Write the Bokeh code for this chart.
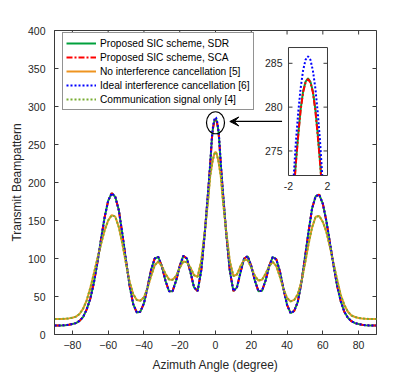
from bokeh.plotting import figure
from bokeh.models import Range1d, FixedTicker, Legend, LegendItem, Arrow, VeeHead
from bokeh.core.properties import value
from bokeh.embed import file_html
from bokeh.resources import INLINE

# ---------------- data ----------------
angles = [-90, -88, -86, -84, -82, -80, -78, -76, -74, -72, -70, -68, -66, -64, -62, -60,
          -58, -56, -54, -52, -50, -48, -46, -44, -42, -40, -38, -36, -34, -32, -30, -28,
          -26, -24, -22, -20, -18, -16, -14, -12, -10, -8, -6, -4,
          -3, -2, -1.75, -1.5, -1.25, -1, -0.75, -0.5, -0.25, 0,
          0.25, 0.5, 0.75, 1, 1.25, 1.5, 1.75, 2, 3,
          4, 6, 8, 10, 12, 14, 16, 18, 20, 22, 24, 26, 28, 30, 32, 34, 36, 38, 40, 42,
          44, 46, 48, 50, 52, 54, 56, 58, 60, 62, 64, 66, 68, 70, 72, 74, 76, 78, 80, 82,
          84, 86, 88, 90]

ideal = [11.8, 11.8, 12, 12.2, 12.8, 13.8, 15, 18, 23, 33, 47, 68, 95, 125, 154, 176,
         186, 181, 163, 131, 97, 64, 40, 29, 30, 41, 62, 85, 100, 102, 90, 71,
         57, 57, 71, 90, 103.5, 100, 82, 62, 57, 84, 133, 192,
         224, 260, 266.6, 271.5, 275.9, 279.4, 282.2, 284.2, 285.4, 285.8,
         285.4, 284.2, 282.2, 279.4, 275.9, 271.5, 266.6, 260, 224,
         192, 133, 84, 57, 62, 82, 100, 103, 90, 71, 57, 57.5, 71, 90, 102, 99, 83, 60, 39, 28,
         31, 43, 68, 101, 135, 166, 182, 184, 172, 149, 120, 91, 64, 44, 30, 22, 17.5, 15, 13.8, 12.8,
         12.2, 12, 11.8, 11.8]

sca = [11.8, 11.8, 12, 12.2, 12.8, 13.8, 15, 18, 23, 33, 47, 68, 95, 125, 154, 176,
       186, 181, 163, 131, 97, 64, 40, 29, 30, 41, 62, 85, 100, 102, 90, 71,
       57, 57, 71, 90, 103.5, 100, 82, 62, 57, 84, 133, 191,
       222, 258, 264.3, 269.6, 273.5, 276.8, 279.7, 281.7, 282.8, 283.2,
       282.8, 281.7, 279.7, 276.8, 273.5, 269.6, 264.3, 258, 222,
       191, 133, 84, 57, 62, 82, 100, 103, 90, 71, 57, 57.5, 71, 90, 102, 99, 83, 60, 39, 28,
       31, 43, 68, 101, 135, 166, 182, 184, 172, 149, 120, 91, 64, 44, 30, 22, 17.5, 15, 13.8, 12.8,
       12.2, 12, 11.8, 11.8]

sdr = [11.8, 11.8, 12, 12.2, 12.8, 13.8, 15, 18, 23, 33, 47, 68, 95, 125, 154, 176,
       186, 181, 163, 131, 97, 64, 40, 29, 30, 41, 62, 85, 100, 102, 90, 71,
       57, 57, 71, 90, 103.5, 100, 82, 62, 57, 84, 133, 191,
       222, 258.1, 264.4, 269.7, 273.6, 276.9, 279.8, 281.8, 282.9, 283.3,
       282.9, 281.8, 279.8, 276.9, 273.6, 269.7, 264.4, 258.1, 222,
       191, 133, 84, 57, 62, 82, 100, 103, 90, 71, 57, 57.5, 71, 90, 102, 99, 83, 60, 39, 28,
       31, 43, 68, 101, 135, 166, 182, 184, 172, 149, 120, 91, 64, 44, 30, 22, 17.5, 15, 13.8, 12.8,
       12.2, 12, 11.8, 11.8]

no_cancel = [20.5, 20.5, 20.5, 20.8, 21.2, 22, 23.5, 27, 34, 45, 61, 80, 100, 119, 137, 150,
             157, 155, 141, 119, 93, 69, 53, 45.5, 44.5, 49, 61, 77, 91, 96, 90, 80,
             72.5, 72, 77, 88, 96, 95, 88, 78, 76, 96, 135, 180,
             208, 223, 226.5, 229.5, 232, 234.5, 236.8, 238.5, 239.6, 240,
             239.6, 238.5, 236.8, 234.5, 232, 229.5, 226.5, 223, 208,
             180, 135, 96, 77, 79, 90, 98, 98, 88, 77, 71, 72, 80, 90, 95.5, 90, 76, 60, 48, 43.5,
             45.5, 53, 69, 93, 119, 141, 155, 156, 148, 135, 115, 93, 72, 52, 39, 30, 25, 23, 21.8, 21,
             20.7, 20.5, 20.5, 20.5]

comm_only = [20.5, 20.5, 20.5, 20.8, 21.2, 22, 23.5, 27, 34, 45, 61, 80, 100, 119, 137, 150,
             157, 155, 141, 119, 93, 69, 53, 45.5, 44.5, 49, 61, 77, 91, 96, 90, 80,
             72.5, 72, 77, 88, 96, 95, 88, 78, 76, 96, 135, 180,
             208, 223, 226.5, 229.5, 232, 234.5, 236.8, 238.5, 239.6, 240,
             239.6, 238.5, 236.8, 234.5, 232, 229.5, 226.5, 223, 208,
             180, 135, 96, 77, 79, 90, 98, 98, 88, 77, 71, 72, 80, 90, 95.5, 90, 76, 60, 48, 43.5,
             45.5, 53, 69, 93, 119, 141, 155, 156, 148, 135, 115, 93, 72, 52, 39, 30, 25, 23, 21.8, 21,
             20.7, 20.5, 20.5, 20.5]

labels = ["Proposed SIC scheme, SDR", "Proposed SIC scheme, SCA",
          "No interference cancellation [5]", "Ideal interference cancellation [6]",
          "Communication signal only [4]"]

x_ticks = [-80, -60, -40, -20, 0, 20, 40, 60, 80]
y_ticks = [0, 50, 100, 150, 200, 250, 300, 350, 400]
x_lim = (-90, 90)
y_lim = (0, 400)

inset_x_ticks = [-2, 2]
inset_y_ticks = [275, 280, 285]
inset_x_lim = (-2, 2)
inset_y_lim = (272.2, 286.8)
# where the inset box sits, in main-axis units
inset_box_x = (40.8, 62.6)
inset_box_y = (209.2, 377.6)

# zoom marker (circle around the peak) and arrow from the inset
mark_x, mark_y = 0, 278.6
arrow_from = (37.2, 280.3)
arrow_to = (8.0, 280.3)

# ---------------- style ----------------
FONT = "Liberation Sans"
AX = "#3a3a3a"
TXT = "#262626"
TICK_SIZE = "10.5px"
C_SDR = "#00A03C"
C_SCA = "#FF0000"
C_NO = "#EE9420"
C_IDEAL = "#0000FF"
C_COMM = "#77AC30"

BORDER_L, BORDER_R, BORDER_T, BORDER_B = 54, 31, 30, 41
FRAME_W, FRAME_H = 322, 304

STYLES = [dict(line_color=C_SDR, line_width=2),
          dict(line_color=C_SCA, line_width=2, line_dash="6 2 2 2"),
          dict(line_color=C_NO, line_width=2),
          dict(line_color=C_IDEAL, line_width=2, line_dash="2 2"),
          dict(line_color=C_COMM, line_width=2, line_dash="2 2")]
SERIES = [sdr, sca, no_cancel, ideal, comm_only]


def style_axis(ax, ticks, standoff):
    ax.ticker = FixedTicker(ticks=ticks)
    ax.axis_line_color = AX
    ax.axis_line_width = 1
    ax.major_tick_line_color = AX
    ax.major_tick_in = 4
    ax.major_tick_out = 0
    ax.minor_tick_line_color = None
    ax.major_label_text_font = FONT
    ax.major_label_text_color = TXT
    ax.major_label_text_font_size = TICK_SIZE
    ax.major_label_standoff = standoff


def clip_segment(xa, ya, xb, yb, x0, x1, y0, y1):
    dx, dy = xb - xa, yb - ya
    t0, t1 = 0.0, 1.0
    for pp, qq in ((-dx, xa - x0), (dx, x1 - xa), (-dy, ya - y0), (dy, y1 - ya)):
        if pp == 0:
            if qq < 0:
                return None
        else:
            t = qq / pp
            if pp < 0:
                if t > t1:
                    return None
                t0 = max(t0, t)
            else:
                if t < t0:
                    return None
                t1 = min(t1, t)
    return (xa + t0 * dx, ya + t0 * dy), (xa + t1 * dx, ya + t1 * dy)


def clip_polyline(xs, ys, x0, x1, y0, y1):
    pieces, cx, cy = [], [], []
    for i in range(len(xs) - 1):
        seg = clip_segment(xs[i], ys[i], xs[i + 1], ys[i + 1], x0, x1, y0, y1)
        if seg is None:
            if cx:
                pieces.append((cx, cy))
                cx, cy = [], []
            continue
        (ax_, ay_), (bx_, by_) = seg
        if cx and abs(cx[-1] - ax_) < 1e-9 and abs(cy[-1] - ay_) < 1e-9:
            cx.append(bx_)
            cy.append(by_)
        else:
            if cx:
                pieces.append((cx, cy))
            cx, cy = [ax_, bx_], [ay_, by_]
    if cx:
        pieces.append((cx, cy))
    return [pc[0] for pc in pieces], [pc[1] for pc in pieces]


# ---------------- main figure ----------------
p = figure(width=BORDER_L + FRAME_W + BORDER_R, height=BORDER_T + FRAME_H + BORDER_B,
           min_border_left=BORDER_L, min_border_right=BORDER_R,
           min_border_top=BORDER_T, min_border_bottom=BORDER_B,
           x_range=Range1d(*x_lim), y_range=Range1d(*y_lim),
           output_backend="svg", toolbar_location=None,
           background_fill_color="white", border_fill_color="white")
p.outline_line_color = AX
p.xgrid.visible = False
p.ygrid.visible = False

style_axis(p.xaxis[0], x_ticks, 6)
style_axis(p.yaxis[0], y_ticks, 9)
p.xaxis[0].axis_label = "Azimuth Angle (degree)"
p.yaxis[0].axis_label = "Transmit Beampattern"
for ax in (p.xaxis[0], p.yaxis[0]):
    ax.axis_label_text_font = FONT
    ax.axis_label_text_font_size = "12px"
    ax.axis_label_text_font_style = "normal"
    ax.axis_label_text_color = TXT
p.xaxis[0].axis_label_standoff = 6
p.yaxis[0].axis_label_standoff = 1

# inward tick marks on the top and right frame edges (outer half of each dash is clipped)
p.scatter(x_ticks, [y_lim[1]] * len(x_ticks), marker="dash", angle=1.5708, size=8,
          line_color=AX, line_width=1)
p.scatter([x_lim[1]] * len(y_ticks), y_ticks, marker="dash", size=8, line_color=AX, line_width=1)

rs = [p.line(angles, s, **st) for s, st in zip(SERIES, STYLES)]

legend = Legend(items=[LegendItem(label=l, renderers=[r]) for l, r in zip(labels, rs)],
                location=(8, 224))
legend.label_text_font = FONT
legend.label_text_font_size = "10.2px"
legend.label_text_color = "#000000"
legend.glyph_width = 30
legend.glyph_height = 14
legend.label_height = 14
legend.label_standoff = 4
legend.spacing = 0
legend.padding = 3
legend.margin = 0
legend.border_line_color = "#262626"
legend.border_line_width = 1
legend.background_fill_color = "white"
legend.background_fill_alpha = 1
p.add_layout(legend)

p.ellipse(x=[mark_x], y=[mark_y], width=18, height=22,
          width_units="screen", height_units="screen",
          fill_alpha=0, line_color="black", line_width=1.2)
p.add_layout(Arrow(end=VeeHead(size=9, fill_color="black", line_color="black"),
                   x_start=arrow_from[0], y_start=arrow_from[1],
                   x_end=arrow_to[0], y_end=arrow_to[1],
                   line_color="black", line_width=1.2))

# ---------------- inset (sub-coordinates inside the main plot) ----------------
sub = p.subplot(x_source=Range1d(*inset_x_lim), y_source=Range1d(*inset_y_lim),
                x_target=Range1d(*inset_box_x), y_target=Range1d(*inset_box_y))

sub.quad(left=[inset_x_lim[0]], right=[inset_x_lim[1]], bottom=[inset_y_lim[0]], top=[inset_y_lim[1]],
         fill_color="white", line_color=None)
for s, st in zip(SERIES, STYLES):
    cxs, cys = clip_polyline(angles, s, inset_x_lim[0], inset_x_lim[1], inset_y_lim[0], inset_y_lim[1])
    sub.multi_line(cxs, cys, **st)
sub.quad(left=[inset_x_lim[0]], right=[inset_x_lim[1]], bottom=[inset_y_lim[0]], top=[inset_y_lim[1]],
         fill_color=None, line_color=AX, line_width=1)

# inset tick marks (4 px long, converted into inset units)
box_px_w = (inset_box_x[1] - inset_box_x[0]) * FRAME_W / (x_lim[1] - x_lim[0])
tick_dx = 4 * (inset_x_lim[1] - inset_x_lim[0]) / box_px_w
n = len(inset_y_ticks)
sub.segment(x0=[inset_x_lim[0]] * n, x1=[inset_x_lim[0] + tick_dx] * n,
            y0=inset_y_ticks, y1=inset_y_ticks, line_color=AX, line_width=1)
sub.segment(x0=[inset_x_lim[1] - tick_dx] * n, x1=[inset_x_lim[1]] * n,
            y0=inset_y_ticks, y1=inset_y_ticks, line_color=AX, line_width=1)

sub.text(x=[inset_x_lim[0]] * n, y=inset_y_ticks, text=[str(t) for t in inset_y_ticks],
         text_align="right", text_baseline="middle", x_offset=-6,
         text_font=value(FONT), text_font_size=TICK_SIZE, text_color=TXT)
sub.text(x=inset_x_ticks, y=[inset_y_lim[0]] * len(inset_x_ticks),
         text=[str(t) for t in inset_x_ticks],
         text_align="center", text_baseline="top", y_offset=6,
         text_font=value(FONT), text_font_size=TICK_SIZE, text_color=TXT)

open("out.html", "w").write(file_html(p, INLINE))
